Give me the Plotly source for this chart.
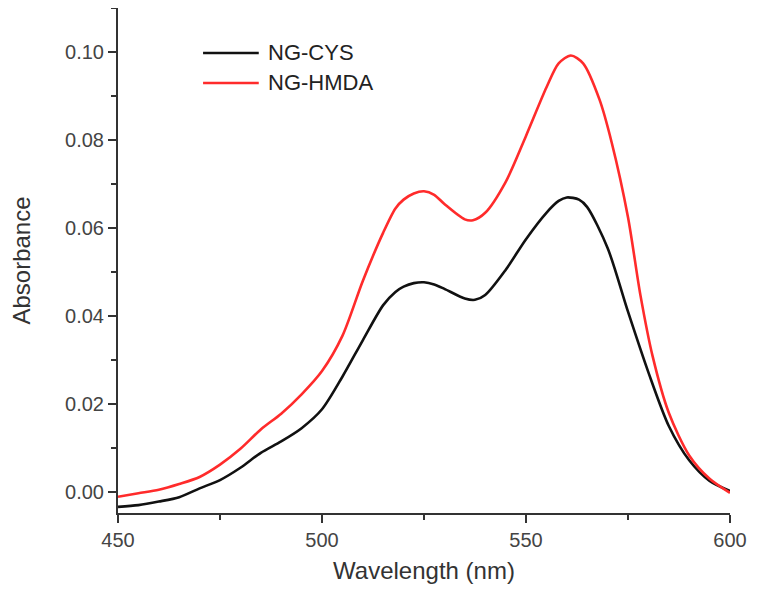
import plotly.graph_objects as go

# Wavelength (nm) and absorbance values
wl_cys = [450, 455, 460, 465, 470, 475, 480, 485, 490, 495, 500, 505, 510, 515, 518, 520,
          522.5, 525, 527.5, 530, 535, 537.5, 540, 545, 550, 555, 558, 560, 563, 565, 570,
          575, 580, 585, 590, 595, 600]
abs_cys = [-0.0034, -0.0030, -0.0022, -0.0012, 0.0008, 0.0027, 0.0055, 0.0089, 0.0115,
           0.0145, 0.0188, 0.0262, 0.0345, 0.0425, 0.0455, 0.0467, 0.0475, 0.0477, 0.0472,
           0.0462, 0.0440, 0.0437, 0.0448, 0.0505, 0.0575, 0.0635, 0.0662, 0.0670, 0.0665,
           0.0648, 0.0555, 0.0410, 0.0272, 0.0150, 0.0072, 0.0025, 0.0002]

wl_hmda = [450, 455, 460, 465, 470, 475, 480, 485, 490, 495, 500, 505, 510, 515, 518, 520,
           522.5, 525, 527.5, 530, 535, 537, 540, 545, 550, 555, 558, 561, 564, 568, 571,
           575, 578, 581, 585, 590, 595, 600]
abs_hmda = [-0.0011, -0.0003, 0.0005, 0.0018, 0.0034, 0.0062, 0.0098, 0.0142, 0.0178,
            0.0222, 0.0275, 0.0355, 0.0480, 0.0590, 0.0645, 0.0665, 0.0679, 0.0684, 0.0676,
            0.0655, 0.0620, 0.0618, 0.0635, 0.0705, 0.0810, 0.0920, 0.0975, 0.0993, 0.0975,
            0.0893, 0.0795, 0.0625, 0.0450, 0.0310, 0.0180, 0.0083, 0.0030, -0.0002]

series_names = ["NG-CYS", "NG-HMDA"]
series_colors = ["#111111", "#ff2b2b"]

fig = go.Figure()
fig.add_trace(go.Scatter(x=wl_cys, y=abs_cys, mode="lines", name=series_names[0],
                         line=dict(color=series_colors[0], width=2.6, shape="spline", smoothing=0.8)))
fig.add_trace(go.Scatter(x=wl_hmda, y=abs_hmda, mode="lines", name=series_names[1],
                         line=dict(color=series_colors[1], width=2.6, shape="spline", smoothing=0.8)))

font_fam = "Liberation Sans, Arial, sans-serif"
axis_col = "#333333"

# Legend drawn as line samples plus text labels (paper coordinates)
legend_rows_y = [0.911, 0.8515]
for name, col, yy in zip(series_names, series_colors, legend_rows_y):
    fig.add_shape(type="line", xref="paper", yref="paper", x0=0.139, x1=0.230, y0=yy, y1=yy,
                  line=dict(color=col, width=2.6))
    fig.add_annotation(xref="paper", yref="paper", x=0.2418, y=yy, text=name, showarrow=False,
                       xanchor="left", yanchor="middle",
                       font=dict(size=22, color="#222222", family=font_fam))

fig.update_layout(
    width=757, height=602,
    margin=dict(l=110, r=35, t=0, b=97),
    paper_bgcolor="white", plot_bgcolor="white",
    font=dict(family=font_fam, color="#444444"),
    showlegend=False,
    xaxis=dict(
        range=[450, 600], dtick=50, tick0=450, automargin=False,
        showgrid=False, zeroline=False,
        showline=True, linecolor=axis_col, linewidth=2,
        ticks="outside", ticklen=8, tickwidth=2, tickcolor=axis_col,
        tickfont=dict(size=20, color="#444444"),
        minor=dict(ticks="outside", ticklen=5, tickwidth=2, tickcolor=axis_col, dtick=25),
        title=dict(text="Wavelength (nm)", font=dict(size=24, color="#333333"), standoff=12),
    ),
    yaxis=dict(
        range=[-0.0048, 0.1101], dtick=0.02, tick0=0, tickformat=".2f", automargin=False,
        showgrid=False, zeroline=False,
        showline=True, linecolor=axis_col, linewidth=2,
        ticks="outside", ticklen=8, tickwidth=2, tickcolor=axis_col,
        tickfont=dict(size=20, color="#444444"),
        minor=dict(ticks="outside", ticklen=5, tickwidth=2, tickcolor=axis_col, dtick=0.01),
        title=dict(text="Absorbance", font=dict(size=24, color="#333333"), standoff=34),
    ),
)

fig.write_html("out.html")
